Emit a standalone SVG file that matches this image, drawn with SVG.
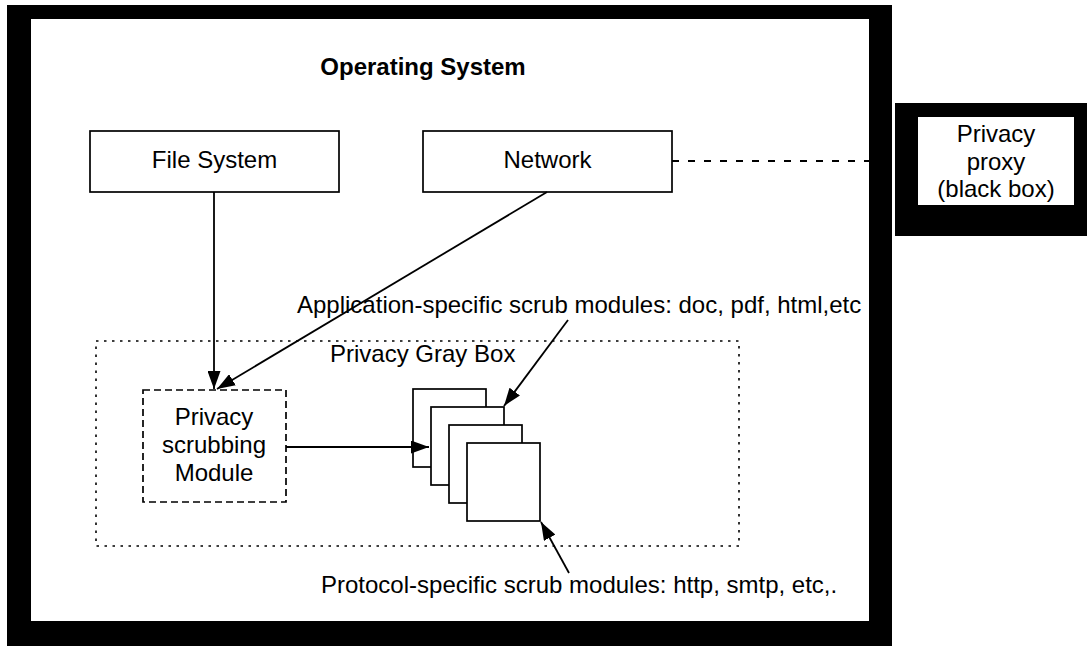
<svg xmlns="http://www.w3.org/2000/svg" width="1087" height="646" viewBox="0 0 1087 646">
  <style>
    text { font-family: "Liberation Sans", Arial, Helvetica, sans-serif; font-size: 24px; fill: #000; }
    .title { font-weight: bold; }
    .box { fill: #fff; stroke: #000; stroke-width: 1.7; }
    .line { fill: none; stroke: #000; stroke-width: 1.8; }
  </style>
  <defs>
    <marker id="arrow" viewBox="0 0 18 13" refX="18" refY="6.5" markerWidth="18" markerHeight="13" markerUnits="userSpaceOnUse" orient="auto">
      <path d="M0,0 L18,6.5 L0,13 z" fill="#000"/>
    </marker>
  </defs>

  <rect width="1087" height="646" fill="#fff"/>

  <g id="operating-system">
    <rect x="7" y="5" width="885" height="641" fill="#000"/>
    <rect x="31" y="19" width="838" height="602" fill="#fff"/>
    <text class="title" x="423" y="75" text-anchor="middle">Operating System</text>
  </g>

  <g id="privacy-proxy">
    <rect x="895" y="103" width="192" height="133" fill="#000"/>
    <rect x="918" y="117" width="156" height="88" fill="#fff"/>
    <text x="996" y="142" text-anchor="middle">Privacy</text>
    <text x="996" y="170" text-anchor="middle">proxy</text>
    <text x="996" y="197" text-anchor="middle">(black box)</text>
  </g>

  <g id="file-system">
    <rect class="box" x="90" y="131" width="249" height="61"/>
    <text x="214.5" y="168" text-anchor="middle">File System</text>
  </g>

  <g id="network">
    <rect class="box" x="423" y="131" width="249" height="61"/>
    <text x="547.5" y="168" text-anchor="middle">Network</text>
  </g>

  <g id="privacy-gray-box">
    <rect x="96" y="341" width="643" height="205" fill="none" stroke="#000" stroke-width="1.6" stroke-dasharray="2.5 5.5"/>
    <text x="330" y="362">Privacy Gray Box</text>
  </g>

  <g id="privacy-scrubbing-module">
    <rect x="143" y="390" width="143" height="112" fill="#fff" stroke="#000" stroke-width="1.7" stroke-dasharray="7 4"/>
    <text x="214" y="425" text-anchor="middle">Privacy</text>
    <text x="214" y="453" text-anchor="middle">scrubbing</text>
    <text x="214" y="481" text-anchor="middle">Module</text>
  </g>

  <g id="scrub-modules">
    <rect class="box" x="413" y="389" width="73" height="78"/>
    <rect class="box" x="431" y="407" width="73" height="78"/>
    <rect class="box" x="449" y="425" width="73" height="78"/>
    <rect class="box" x="467" y="443" width="73" height="78"/>
  </g>

  <g id="label-application">
    <text x="297" y="313">Application-specific scrub modules: doc, pdf, html,etc</text>
  </g>

  <g id="label-protocol">
    <text x="321" y="593">Protocol-specific scrub modules: http, smtp, etc,.</text>
  </g>

  <g id="connectors">
    <line class="line" x1="672" y1="161" x2="895" y2="161" stroke-dasharray="7 9"/>
    <line class="line" x1="214" y1="192" x2="214" y2="389" marker-end="url(#arrow)"/>
    <line class="line" x1="547" y1="192" x2="217" y2="389" marker-end="url(#arrow)"/>
    <line class="line" x1="286" y1="447" x2="429" y2="447" marker-end="url(#arrow)"/>
    <line class="line" x1="568" y1="320" x2="504" y2="406" marker-end="url(#arrow)"/>
    <line class="line" x1="569" y1="573" x2="541" y2="522" marker-end="url(#arrow)"/>
  </g>
</svg>
